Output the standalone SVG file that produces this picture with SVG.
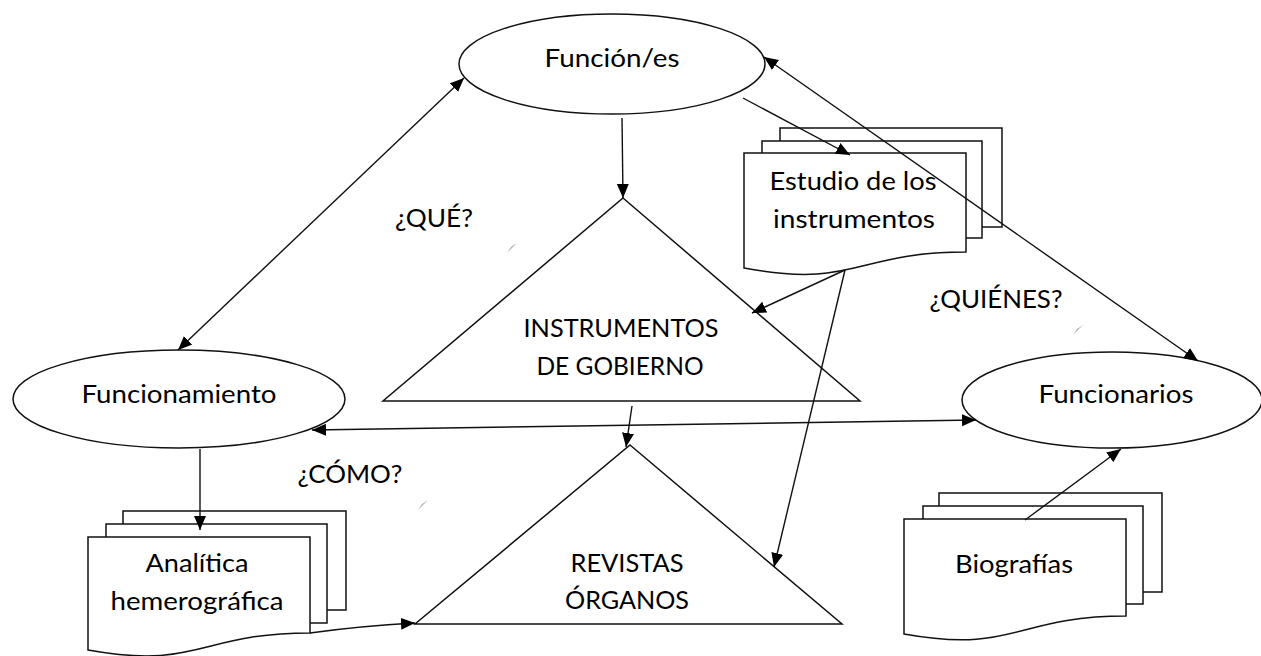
<svg xmlns="http://www.w3.org/2000/svg" width="1261" height="656" viewBox="0 0 1261 656">
<style>
.shape{fill:#fff;stroke:#111;stroke-width:1.5}
.lbl{font-family:Lato,"Open Sans","Liberation Sans",sans-serif;font-size:25px;fill:#000;text-anchor:middle}
.con{fill:none;stroke:#111;stroke-width:1.4}
.mark{fill:#b0b0b0;stroke:none}
</style>
<defs>
<marker id="ah" markerUnits="userSpaceOnUse" markerWidth="15" markerHeight="13" refX="14" refY="6" orient="auto-start-reverse" viewBox="0 0 15 13">
<path d="M0,0 L14,6 L0,12 Z" fill="#000"/>
</marker>
</defs>
<rect width="1261" height="656" fill="#fff"/>

<g id="funciones">
<ellipse class="shape" cx="612" cy="64" rx="153" ry="50"/>
<text class="lbl" x="612" y="67" textLength="135" lengthAdjust="spacingAndGlyphs">Función/es</text>
</g>

<g id="funcionamiento">
<ellipse class="shape" cx="179" cy="399" rx="166" ry="49"/>
<text class="lbl" x="179" y="403" textLength="195" lengthAdjust="spacingAndGlyphs">Funcionamiento</text>
</g>

<g id="funcionarios">
<ellipse class="shape" cx="1112" cy="400" rx="150" ry="48"/>
<text class="lbl" x="1116" y="403" textLength="155" lengthAdjust="spacingAndGlyphs">Funcionarios</text>
</g>

<g id="instrumentos-gobierno">
<polygon class="shape" points="623,198 860,401 383,401"/>
<text class="lbl" x="621" y="337" textLength="195" lengthAdjust="spacingAndGlyphs">INSTRUMENTOS</text>
<text class="lbl" x="620" y="375" textLength="167" lengthAdjust="spacingAndGlyphs">DE GOBIERNO</text>
</g>

<g id="revistas-organos">
<polygon class="shape" points="630,445 842,624 415,624"/>
<text class="lbl" x="627" y="572" textLength="113" lengthAdjust="spacingAndGlyphs">REVISTAS</text>
<text class="lbl" x="627" y="609" textLength="124" lengthAdjust="spacingAndGlyphs">ÓRGANOS</text>
</g>

<g id="estudio">
<rect class="shape" x="780" y="128" width="222" height="99"/>
<rect class="shape" x="762" y="141" width="220" height="97"/>
<path class="shape" d="M744,153 H966 V252 C855,252 855,289 744,268 Z"/>
<text class="lbl" x="853" y="190" textLength="167" lengthAdjust="spacingAndGlyphs">Estudio de los</text>
<text class="lbl" x="854" y="228" textLength="162" lengthAdjust="spacingAndGlyphs">instrumentos</text>
</g>

<g id="analitica">
<rect class="shape" x="123" y="511" width="223" height="99"/>
<rect class="shape" x="106" y="524" width="221" height="99"/>
<path class="shape" d="M88,537 H310 V633 C199,633 199,670 88,650 Z"/>
<text class="lbl" x="197" y="572" textLength="103" lengthAdjust="spacingAndGlyphs">Analítica</text>
<text class="lbl" x="197" y="610" textLength="173" lengthAdjust="spacingAndGlyphs">hemerográfica</text>
</g>

<g id="biografias">
<rect class="shape" x="939" y="493" width="223" height="99"/>
<rect class="shape" x="923" y="506" width="220" height="98"/>
<path class="shape" d="M904,519 H1126 V616 C1015,616 1015,654 904,634 Z"/>
<text class="lbl" x="1014" y="573" textLength="118" lengthAdjust="spacingAndGlyphs">Biografías</text>
</g>

<g id="labels">
<text class="lbl" x="434" y="227" textLength="78" lengthAdjust="spacingAndGlyphs">¿QUÉ?</text>
<text class="lbl" x="350" y="483" textLength="105" lengthAdjust="spacingAndGlyphs">¿CÓMO?</text>
<text class="lbl" x="996" y="308" textLength="133" lengthAdjust="spacingAndGlyphs">¿QUIÉNES?</text>
</g>

<g id="connectors">
<line class="con" x1="464" y1="78" x2="178" y2="350" marker-start="url(#ah)" marker-end="url(#ah)"/>
<line class="con" x1="622" y1="118" x2="623" y2="198" marker-end="url(#ah)"/>
<line class="con" x1="743" y1="98" x2="850" y2="155" marker-end="url(#ah)"/>
<line class="con" x1="764" y1="57" x2="1198" y2="361" marker-start="url(#ah)" marker-end="url(#ah)"/>
<line class="con" x1="845" y1="270" x2="752" y2="313" marker-end="url(#ah)"/>
<line class="con" x1="845" y1="270" x2="774" y2="567" marker-end="url(#ah)"/>
<line class="con" x1="632" y1="406" x2="626" y2="447" marker-end="url(#ah)"/>
<line class="con" x1="312" y1="430" x2="976" y2="420" marker-start="url(#ah)" marker-end="url(#ah)"/>
<line class="con" x1="200" y1="449" x2="200" y2="530" marker-end="url(#ah)"/>
<path class="con" d="M310,633 Q360,626 415,623" marker-end="url(#ah)"/>
<line class="con" x1="1025" y1="520" x2="1121" y2="449" marker-end="url(#ah)"/>
</g>

<g id="marks">
<polygon class="mark" points="507,253 517,243 511,247"/>
<polygon class="mark" points="1073,335 1083,325 1077,329"/>
<polygon class="mark" points="418,510 428,500 422,504"/>
</g>
</svg>
